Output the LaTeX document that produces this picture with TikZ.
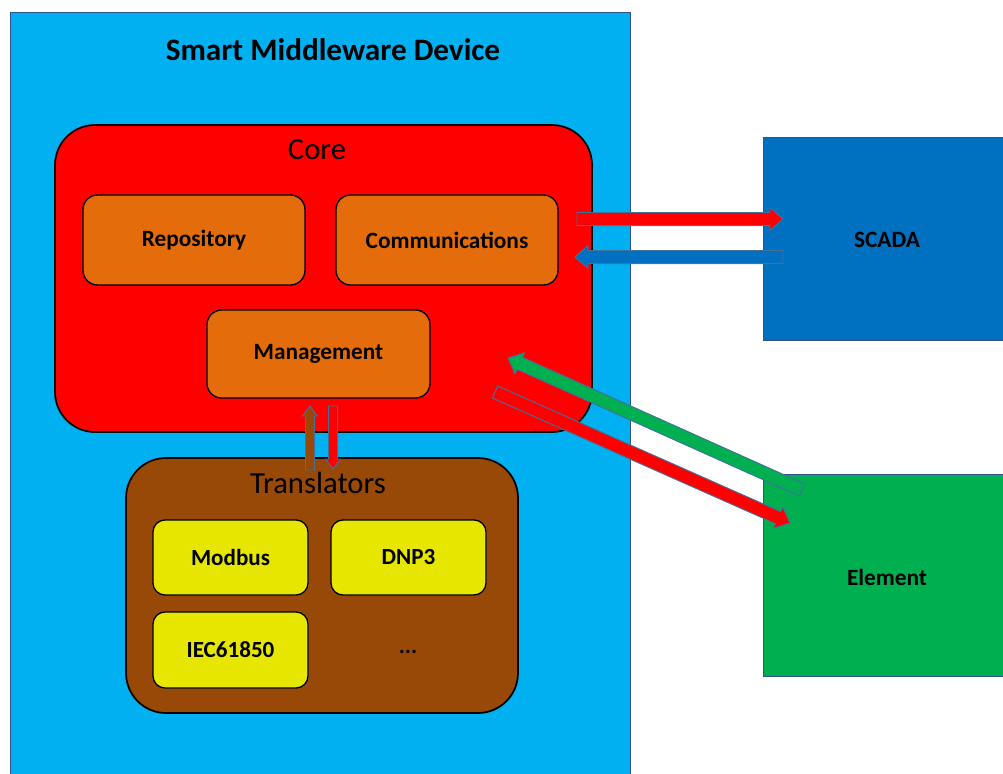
\documentclass[tikz,border=0pt]{standalone}
\usepackage{fontspec}
\setmainfont{Carlito}
\usetikzlibrary{calc}

\definecolor{devblue}{HTML}{00B0F0}
\definecolor{corered}{HTML}{FF0000}
\definecolor{modorange}{HTML}{E46C0A}
\definecolor{transbrown}{HTML}{984807}
\definecolor{protoyellow}{HTML}{E6E600}
\definecolor{scadablue}{HTML}{0070C0}
\definecolor{elemgreen}{HTML}{00B050}
\definecolor{arrline}{HTML}{41719C}
\definecolor{edgeblue}{HTML}{2F528F}

% block arrow: #1 style, #2 tail, #3 tip, #4 half shaft width, #5 half head width, #6 head length
\newcommand\blockarr[6]{%
  \coordinate (ba-h) at ($(#3)!#6!(#2)$);
  \draw[#1] ($(#2)!#4!90:(#3)$) -- ($(ba-h)!#4!90:(#3)$) -- ($(ba-h)!#5!90:(#3)$)
    -- (#3) -- ($(ba-h)!#5!-90:(#3)$) -- ($(ba-h)!#4!-90:(#3)$) -- ($(#2)!#4!-90:(#3)$) -- cycle;
}

\begin{document}
\begin{tikzpicture}[x=0.75pt,y=-0.75pt,
  outer/.style={draw=edgeblue,line width=0.6pt},
  group/.style={draw=black,line width=1.3pt,rounded corners=30pt},
  module/.style={draw=black,line width=1pt,fill=modorange,rounded corners=11pt,
    font=\fontsize{17.5}{20}\selectfont\bfseries},
  proto/.style={draw=black,line width=1pt,fill=protoyellow,rounded corners=9pt,
    font=\fontsize{17.3}{20}\selectfont\bfseries},
  grouplabel/.style={font=\fontsize{23}{26}\selectfont},
  flow/.style={draw=arrline,line width=0.7pt,line join=miter},
  extlabel/.style={font=\fontsize{17.5}{20}\selectfont\bfseries}
]
\useasboundingbox (0,0) rectangle (1003,774);

% device enclosure
\draw[outer,fill=devblue] (10,12) rectangle (630,780);
\node[font=\fontsize{23.4}{26}\selectfont\bfseries] (title) at (333,50) {Smart Middleware Device};

% core
\draw[group,fill=corered] (55,125) rectangle (592,432);
\node[grouplabel] (corelbl) at (317,150) {Core};
\draw[module] (83,195) rectangle (305,285) node[midway] (repo) {Repository};
\draw[module] (336,195) rectangle (558,285) node[midway] (comm) {Communications};
\draw[module] (207,310) rectangle (430,398) node[midway] (mgmt) {Management};

% translators
\draw[group,fill=transbrown] (126,458) rectangle (518,713);
\node[grouplabel] (translbl) at (318,483) {Translators};
\draw[proto] (153,520) rectangle (308,595) node[midway] (modbus) {Modbus};
\draw[proto] (331,520) rectangle (486,595) node[midway] (dnp) {DNP3};
\draw[proto] (153,612) rectangle (308,688) node[midway] (iec) {IEC61850};
\node[font=\fontsize{17.3}{20}\selectfont\bfseries] (more) at (408,652) {...};

% external systems
\draw[outer,fill=scadablue] (763,137) rectangle (1010,340);
\node[extlabel] (scada) at (887,240) {SCADA};
\draw[outer,fill=elemgreen] (763,474) rectangle (1010,676);
\node[extlabel] (elem) at (887,577) {Element};

% connector end points
\coordinate (c-out-a) at (577,219);
\coordinate (c-out-b) at (783,219);
\coordinate (c-in-a) at (783,257);
\coordinate (c-in-b) at (575,257);
\coordinate (e-in-a) at (802,490);
\coordinate (e-in-b) at (508,358);
\coordinate (e-out-a) at (495,392);
\coordinate (e-out-b) at (790,523);
\coordinate (t-up-a) at (310,470);
\coordinate (t-up-b) at (310,406);
\coordinate (t-dn-a) at (333,406);
\coordinate (t-dn-b) at (333,469);

% data flows
\blockarr{flow,fill=corered}{c-out-a}{c-out-b}{4.9pt}{8.6pt}{9.75pt}
\blockarr{flow,fill=scadablue}{c-in-a}{c-in-b}{4.9pt}{8.6pt}{9.75pt}
\blockarr{flow,fill=elemgreen}{e-in-a}{e-in-b}{4.9pt}{8.6pt}{9.75pt}
\blockarr{flow,fill=corered}{e-out-a}{e-out-b}{4.9pt}{8.6pt}{9.75pt}
\blockarr{flow,fill=transbrown}{t-up-a}{t-up-b}{3.4pt}{5.6pt}{7.5pt}
\blockarr{flow,fill=corered}{t-dn-a}{t-dn-b}{3.4pt}{5.6pt}{7.5pt}
\end{tikzpicture}
\end{document}
